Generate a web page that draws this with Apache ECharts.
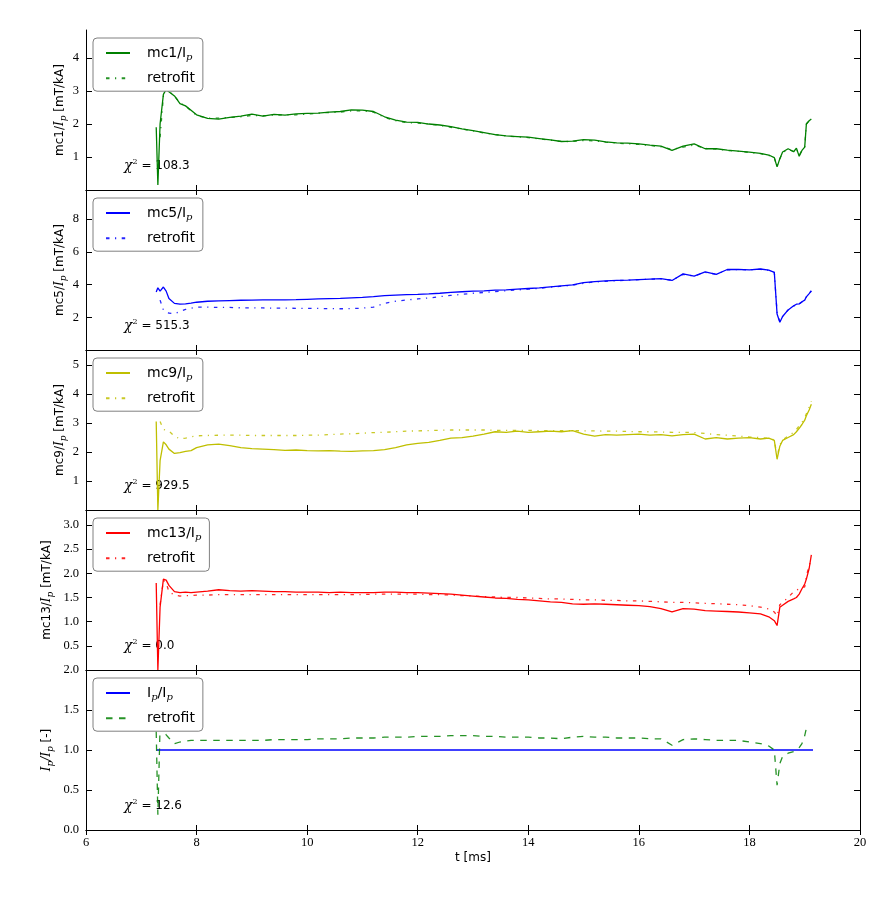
<!DOCTYPE html>
<html>
<head>
<meta charset="utf-8">
<script src="https://cdn.jsdelivr.net/npm/echarts@6/dist/echarts.min.js"></script>
<style>html,body{margin:0;padding:0;background:#fff}#chart{width:879px;height:900px}</style>
</head>
<body>
<div id="chart"></div>
<script>
// ---------------- data ----------------
const T = [7.27, 7.30, 7.34, 7.40, 7.45, 7.50, 7.60, 7.70, 7.80, 7.90, 8.00,
  8.20, 8.40, 8.60, 8.80, 9.00, 9.20, 9.40, 9.60, 9.80, 10.00,
  10.20, 10.40, 10.60, 10.80, 11.00, 11.20, 11.40, 11.60, 11.80, 12.00,
  12.20, 12.40, 12.60, 12.80, 13.00, 13.20, 13.40, 13.60, 13.80, 14.00,
  14.20, 14.40, 14.60, 14.80, 15.00, 15.20, 15.40, 15.60, 15.80, 16.00,
  16.20, 16.40, 16.60, 16.80, 17.00, 17.20, 17.40, 17.60, 17.80, 18.00,
  18.20, 18.35, 18.45, 18.50, 18.55, 18.60, 18.70, 18.80, 18.85, 18.90,
  18.95, 19.00, 19.03, 19.08, 19.12];

const mc1 = [1.90, 0.15, 2.00, 2.90, 3.05, 2.98, 2.85, 2.62, 2.55, 2.42, 2.28,
  2.17, 2.15, 2.20, 2.24, 2.30, 2.24, 2.29, 2.27, 2.31, 2.32,
  2.33, 2.36, 2.38, 2.43, 2.42, 2.38, 2.22, 2.12, 2.06, 2.05,
  2.00, 1.97, 1.92, 1.85, 1.80, 1.74, 1.68, 1.64, 1.62, 1.60,
  1.56, 1.52, 1.47, 1.48, 1.53, 1.51, 1.46, 1.43, 1.42, 1.40,
  1.36, 1.33, 1.20, 1.33, 1.40, 1.25, 1.25, 1.21, 1.18, 1.15,
  1.11, 1.06, 0.98, 0.70, 0.95, 1.15, 1.25, 1.16, 1.27, 1.02,
  1.20, 1.30, 2.00, 2.10, 2.15];
const mc1Fit = [null, null, 1.60, 2.85, 3.08, 3.00, 2.85, 2.64, 2.55, 2.40, 2.26,
  2.18, 2.18, 2.20, 2.22, 2.26, 2.25, 2.27, 2.28, 2.28, 2.30,
  2.33, 2.35, 2.36, 2.40, 2.40, 2.36, 2.20, 2.10, 2.04, 2.03,
  2.00, 1.96, 1.90, 1.85, 1.79, 1.73, 1.68, 1.64, 1.61, 1.59,
  1.55, 1.51, 1.47, 1.47, 1.50, 1.49, 1.45, 1.42, 1.40, 1.38,
  1.35, 1.31, 1.23, 1.30, 1.36, 1.26, 1.24, 1.20, 1.17, 1.14,
  1.10, 1.05, 0.97, 0.72, 0.95, 1.13, 1.23, 1.17, 1.25, 1.05,
  1.20, 1.30, 2.00, 2.10, 2.16];

const mc5 = [3.55, 3.80, 3.60, 3.85, 3.60, 3.15, 2.85, 2.80, 2.82, 2.86, 2.92,
  2.98, 3.00, 3.02, 3.04, 3.05, 3.06, 3.07, 3.07, 3.08, 3.10,
  3.12, 3.14, 3.16, 3.19, 3.22, 3.26, 3.32, 3.35, 3.38, 3.40,
  3.43, 3.47, 3.52, 3.56, 3.60, 3.62, 3.66, 3.68, 3.72, 3.76,
  3.80, 3.86, 3.92, 3.98, 4.12, 4.18, 4.22, 4.25, 4.27, 4.30,
  4.33, 4.36, 4.25, 4.65, 4.52, 4.78, 4.62, 4.92, 4.93, 4.90,
  4.95, 4.88, 4.75, 2.20, 1.70, 2.05, 2.45, 2.70, 2.80, 2.82,
  2.95, 3.05, 3.25, 3.45, 3.62];
const mc5Fit = [null, null, 3.05, 2.45, 2.35, 2.25, 2.22, 2.35, 2.48, 2.55, 2.62,
  2.62, 2.60, 2.60, 2.58, 2.58, 2.57, 2.56, 2.56, 2.55, 2.55,
  2.54, 2.53, 2.52, 2.53, 2.56, 2.62, 2.85, 2.98, 3.06, 3.12,
  3.18, 3.26, 3.34, 3.40, 3.47, 3.52, 3.57, 3.62, 3.67, 3.72,
  3.77, 3.84, 3.90, 3.96, 4.08, 4.16, 4.20, 4.24, 4.27, 4.30,
  4.33, 4.35, 4.27, 4.62, 4.52, 4.75, 4.63, 4.90, 4.92, 4.90,
  4.93, 4.87, 4.74, 2.30, 1.72, 2.05, 2.45, 2.68, 2.78, 2.82,
  2.93, 3.05, 3.25, 3.45, 3.60];

const mc9 = [3.05, 0.00, 1.70, 2.35, 2.25, 2.10, 1.95, 1.98, 2.02, 2.05, 2.15,
  2.25, 2.27, 2.22, 2.15, 2.12, 2.10, 2.08, 2.06, 2.07, 2.05,
  2.04, 2.05, 2.03, 2.02, 2.04, 2.05, 2.08, 2.15, 2.25, 2.30,
  2.33, 2.40, 2.48, 2.50, 2.55, 2.62, 2.70, 2.68, 2.72, 2.68,
  2.70, 2.72, 2.70, 2.74, 2.62, 2.55, 2.60, 2.58, 2.60, 2.62,
  2.58, 2.60, 2.56, 2.60, 2.62, 2.45, 2.50, 2.45, 2.48, 2.50,
  2.45, 2.48, 2.40, 1.75, 2.20, 2.40, 2.50, 2.60, 2.70, 2.82,
  2.95, 3.10, 3.25, 3.45, 3.65];
const mc9Fit = [null, null, 3.05, 2.78, 2.75, 2.72, 2.55, 2.45, 2.48, 2.52, 2.56,
  2.57, 2.58, 2.58, 2.58, 2.57, 2.57, 2.57, 2.57, 2.57, 2.58,
  2.58, 2.60, 2.62, 2.63, 2.65, 2.67, 2.68, 2.70, 2.72, 2.73,
  2.74, 2.75, 2.76, 2.76, 2.76, 2.76, 2.75, 2.75, 2.75, 2.75,
  2.74, 2.74, 2.74, 2.74, 2.73, 2.73, 2.72, 2.72, 2.71, 2.70,
  2.70, 2.69, 2.68, 2.68, 2.67, 2.64, 2.60, 2.58, 2.55, 2.52,
  2.50, 2.47, 2.42, 1.85, 2.25, 2.42, 2.55, 2.68, 2.78, 2.90,
  3.02, 3.18, 3.32, 3.55, 3.75];

const mc13 = [1.80, 0.00, 1.30, 1.88, 1.86, 1.75, 1.62, 1.60, 1.61, 1.60, 1.61,
  1.63, 1.66, 1.64, 1.63, 1.64, 1.63, 1.62, 1.62, 1.61, 1.61,
  1.61, 1.60, 1.61, 1.60, 1.60, 1.60, 1.61, 1.61, 1.60, 1.60,
  1.59, 1.58, 1.57, 1.55, 1.53, 1.51, 1.49, 1.48, 1.46, 1.45,
  1.43, 1.41, 1.40, 1.37, 1.36, 1.37, 1.36, 1.35, 1.34, 1.33,
  1.31, 1.27, 1.20, 1.27, 1.26, 1.23, 1.22, 1.21, 1.20, 1.18,
  1.16, 1.10, 1.02, 0.92, 1.30, 1.34, 1.42, 1.47, 1.50, 1.57,
  1.68, 1.78, 1.88, 2.10, 2.38];
const mc13Fit = [null, null, 1.35, 1.85, 1.80, 1.62, 1.55, 1.53, 1.54, 1.54, 1.55,
  1.55, 1.56, 1.56, 1.56, 1.56, 1.56, 1.56, 1.56, 1.56, 1.56,
  1.56, 1.56, 1.56, 1.56, 1.56, 1.57, 1.57, 1.57, 1.57, 1.57,
  1.56, 1.56, 1.55, 1.54, 1.53, 1.52, 1.51, 1.50, 1.50, 1.49,
  1.48, 1.47, 1.47, 1.46, 1.45, 1.45, 1.44, 1.44, 1.43, 1.43,
  1.42, 1.41, 1.40, 1.40, 1.39, 1.38, 1.37, 1.36, 1.35, 1.33,
  1.30, 1.26, 1.20, 1.12, 1.35, 1.40, 1.50, 1.62, 1.65, 1.68,
  1.70, 1.72, 1.95, 2.15, 2.30];

const ipTime = [7.28, 19.15];
const ipRatio = [1.0, 1.0];
const ipFit = [1.23, 0.19, 1.30, 1.25, 1.19, 1.15, 1.08, 1.10, 1.11, 1.12, 1.12,
  1.12, 1.12, 1.12, 1.12, 1.12, 1.12, 1.13, 1.13, 1.13, 1.13,
  1.14, 1.14, 1.14, 1.15, 1.15, 1.15, 1.16, 1.16, 1.16, 1.17,
  1.17, 1.17, 1.18, 1.18, 1.18, 1.17, 1.17, 1.16, 1.16, 1.16,
  1.15, 1.15, 1.14, 1.16, 1.17, 1.16, 1.16, 1.15, 1.15, 1.15,
  1.14, 1.14, 1.06, 1.13, 1.14, 1.13, 1.12, 1.12, 1.12, 1.10,
  1.08, 1.05, 1.00, 0.56, 0.83, 0.92, 0.96, 0.98, 1.00, 1.03,
  1.08, 1.18, 1.27, null, null];

const chi2 = ['108.3', '515.3', '929.5', '0.0', '12.6'];

// ---------------- layout / styles ----------------
const LEFT = 86, RIGHT = 860, TOP0 = 30, PH = 160;
const G = '#008000', B = '#0000ff', Y = '#bfbf00', R = '#ff0000';
const DASHDOT = [3.5, 5.5, 1.2, 5.5];
const DASHED = [6.5, 6.5];

const panels = [
  { main: mc1, fit: mc1Fit, color: G, fitColor: G, fitDash: DASHDOT, yMax: 4.85, yStep: 1, dec: 0, gap: 18,
    yName: '{a|mc1/}{i|I}{s|p}{a| [mT/kA]}', mainLbl: '{g|}{a|mc1/I}{p|p}', showMin: false, showMax: false },
  { main: mc5, fit: mc5Fit, color: B, fitColor: B, fitDash: DASHDOT, yMax: 9.78, yStep: 2, dec: 0, gap: 18,
    yName: '{a|mc5/}{i|I}{s|p}{a| [mT/kA]}', mainLbl: '{g|}{a|mc5/I}{p|p}', showMin: false, showMax: false },
  { main: mc9, fit: mc9Fit, color: Y, fitColor: Y, fitDash: DASHDOT, yMax: 5.52, yStep: 1, dec: 0, gap: 18,
    yName: '{a|mc9/}{i|I}{s|p}{a| [mT/kA]}', mainLbl: '{g|}{a|mc9/I}{p|p}', showMin: false, showMax: false },
  { main: mc13, fit: mc13Fit, color: R, fitColor: R, fitDash: DASHDOT, yMax: 3.31, yStep: 0.5, dec: 1, gap: 31,
    yName: '{a|mc13/}{i|I}{s|p}{a| [mT/kA]}', mainLbl: '{g|}{a|mc13/I}{p|p}', showMin: false, showMax: false },
  { main: null, fit: ipFit, color: B, fitColor: G, fitDash: DASHED, yMax: 2.0, yStep: 0.5, dec: 1, gap: 31,
    yName: '{i|I}{s|p}{i|/I}{s|p}{a| [-]}', mainLbl: '{g|}{a|I}{p|p}{a|/I}{p|p}', showMin: true, showMax: true }
];

const nameRich = {
  a: { fontFamily: 'DejaVu Sans', fontSize: 12, lineHeight: 16, color: '#000' },
  i: { fontFamily: 'DejaVu Serif', fontStyle: 'italic', fontSize: 12, lineHeight: 16, color: '#000' },
  s: { fontFamily: 'DejaVu Serif', fontStyle: 'italic', fontSize: 9, lineHeight: 9, verticalAlign: 'bottom', color: '#000' }
};
const legRich = {
  g: { width: 12 },
  a: { fontFamily: 'DejaVu Sans', fontSize: 14, lineHeight: 18, color: '#000' },
  p: { fontFamily: 'DejaVu Serif', fontStyle: 'italic', fontSize: 10, lineHeight: 10, verticalAlign: 'bottom', color: '#000' }
};
const chiRich = {
  c: { fontFamily: 'DejaVu Serif', fontStyle: 'italic', fontSize: 14, lineHeight: 16, color: '#000' },
  u: { fontFamily: 'DejaVu Serif', fontSize: 8, lineHeight: 8, verticalAlign: 'top', color: '#000' },
  t: { fontFamily: 'DejaVu Sans', fontSize: 12, lineHeight: 16, color: '#000' }
};

const tickFont = { fontFamily: 'Liberation Serif', fontSize: 12.5, color: '#000' };
const axisLine = { show: true, lineStyle: { color: '#000', width: 1 } };

const grid = [], xAxis = [], yAxis = [], series = [], legend = [], graphic = [];
const labelMap = {};

panels.forEach((p, i) => {
  const top = TOP0 + PH * i;
  grid.push({ left: LEFT, top: top, width: RIGHT - LEFT, height: PH, show: false });
  const xBase = { type: 'value', gridIndex: i, min: 6, max: 20, interval: 2,
    axisLine: axisLine, splitLine: { show: false },
    axisTick: { show: true, inside: true, length: 5, lineStyle: { color: '#000' } } };
  xAxis.push(Object.assign({}, xBase, { position: 'bottom',
    axisLabel: { show: i === panels.length - 1, margin: 6, ...tickFont },
    name: i === panels.length - 1 ? 't [ms]' : '', nameLocation: 'middle', nameGap: 22,
    nameMoveOverlap: false,
    nameTextStyle: { fontFamily: 'DejaVu Sans', fontSize: 12, color: '#000' } }));
  xAxis.push(Object.assign({}, xBase, { position: 'top', axisLabel: { show: false } }));
  const yBase = { type: 'value', gridIndex: i, min: 0, max: p.yMax, interval: p.yStep,
    axisLine: axisLine, splitLine: { show: false },
    axisTick: { show: true, inside: true, length: 6, lineStyle: { color: '#000' } } };
  yAxis.push(Object.assign({}, yBase, { position: 'left',
    axisLabel: { show: true, margin: 7, showMinLabel: p.showMin, showMaxLabel: p.showMax, ...tickFont,
      formatter: v => v.toFixed(p.dec) },
    name: p.yName, nameLocation: 'middle', nameRotate: 90, nameGap: p.gap, nameMoveOverlap: false,
    nameTextStyle: { rich: nameRich } }));
  yAxis.push(Object.assign({}, yBase, { position: 'right', axisLabel: { show: false } }));

  const mainName = 'main' + i, fitName = 'fit' + i;
  labelMap[mainName] = p.mainLbl;
  labelMap[fitName] = '{g|}{a|retrofit}';
  const mainData = p.main ? T.map((t, k) => [t, p.main[k]]) : ipTime.map((t, k) => [t, ipRatio[k]]);
  series.push({ name: mainName, type: 'line', xAxisIndex: 2 * i, yAxisIndex: 2 * i,
    data: mainData, showSymbol: false, symbol: 'none', animation: false,
    lineStyle: { color: p.color, width: 1.3 }, itemStyle: { color: p.color } });
  series.push({ name: fitName, type: 'line', xAxisIndex: 2 * i, yAxisIndex: 2 * i,
    data: T.map((t, k) => [t, p.fit[k]]), showSymbol: false, symbol: 'none', animation: false,
    lineStyle: { color: p.fitColor, width: 1.3, type: p.fitDash, opacity: 0.85 }, itemStyle: { color: p.fitColor } });

  legend.push({ show: true, orient: 'vertical', left: 93, top: top + 8, padding: [8, 8, 6, 12],
    itemGap: 9.2, itemWidth: 24, itemHeight: 14, selectedMode: false,
    backgroundColor: '#fff', borderColor: '#808080', borderWidth: 1, borderRadius: 4,
    itemStyle: { opacity: 0, borderWidth: 0 },
    data: [mainName, fitName], formatter: n => labelMap[n],
    textStyle: { rich: legRich } });

  graphic.push({ type: 'text', x: 124, y: top + PH - 24, z: 0,
    style: { text: '{c|χ}{u|2}{t| = ' + chi2[i] + '}', rich: chiRich, verticalAlign: 'middle', align: 'left' } });
});

const chart = echarts.init(document.getElementById('chart'), null, { renderer: 'canvas' });
chart.setOption({ animation: false, backgroundColor: '#fff', grid, xAxis, yAxis, series, legend, graphic });
</script>
</body>
</html>
